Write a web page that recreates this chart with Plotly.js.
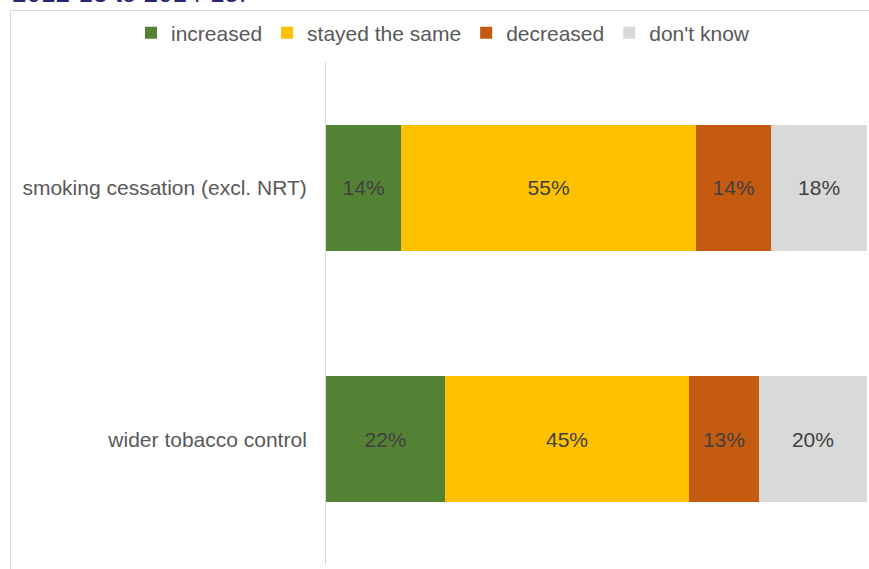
<!DOCTYPE html>
<html>
<head>
<meta charset="utf-8">
<script src="https://cdn.plot.ly/plotly-3.0.1.min.js"></script>
<style>html,body{margin:0;padding:0;background:#fff;}#chart{width:869px;height:569px;}</style>
</head>
<body>
<div id="chart"></div>
<script>
const categories = ["smoking cessation (excl. NRT)", "wider tobacco control"];
const seriesNames = ["increased", "stayed the same", "decreased", "don't know"];
const increased = [13.9, 22.0];
const stayedSame = [54.5, 45.1];
const decreased = [13.9, 12.9];
const dontKnow = [17.7, 20.0];
const colors = ["#548235", "#FFC000", "#C55A11", "#D9D9D9"];
const titleText = "2012-13 to 2014-15.";

const allValues = [increased, stayedSame, decreased, dontKnow];
const traces = allValues.map((vals, i) => ({
  type: "bar",
  orientation: "h",
  name: seriesNames[i],
  y: categories,
  x: vals,
  marker: {color: colors[i]},
  texttemplate: "%{x:.0f}%",
  textposition: "inside",
  insidetextanchor: "middle",
  textfont: {family: "Liberation Sans, Arial, sans-serif", size: 21, color: "#404040"},
  hoverinfo: "skip"
}));

const L = 326, R = 2, T = 62, B = 4, W = 869, H = 569;
const pw = W - L - R, ph = H - T - B;
const px = x => (x - L) / pw;
const py = y => 1 - (y - T) / ph;

const layout = {
  width: W, height: H,
  margin: {l: L, r: R, t: T, b: B, pad: 0, autoexpand: false},
  barmode: "stack",
  bargap: 0.5,
  paper_bgcolor: "#fff",
  plot_bgcolor: "#fff",
  font: {family: "Liberation Sans, Arial, sans-serif", size: 21, color: "#595959"},
  showlegend: true,
  legend: {
    orientation: "h",
    xref: "paper", yref: "paper",
    x: px(131), xanchor: "left",
    y: py(33), yanchor: "middle",
    font: {size: 21, color: "#595959"},
    itemwidth: 30,
    traceorder: "normal",
    itemclick: false, itemdoubleclick: false
  },
  xaxis: {range: [0, 100], visible: false, fixedrange: true},
  yaxis: {
    type: "category",
    categoryorder: "array",
    categoryarray: categories.slice().reverse(),
    showline: true, linecolor: "#D9D9D9", linewidth: 1,
    showgrid: false, zeroline: false,
    ticks: "", ticklabelstandoff: 14,
    tickfont: {size: 21, color: "#595959"},
    fixedrange: true
  },
  shapes: [
    {type: "line", xref: "paper", yref: "paper", x0: px(10.5), x1: px(10.5), y0: py(10.5), y1: py(569), line: {color: "#D9D9D9", width: 1}},
    {type: "line", xref: "paper", yref: "paper", x0: px(10.5), x1: px(869), y0: py(10.5), y1: py(10.5), line: {color: "#D9D9D9", width: 1}}
  ],
  annotations: [
    {text: titleText, xref: "paper", yref: "paper", x: px(10), xanchor: "left", y: py(10), yanchor: "bottom", showarrow: false,
     font: {family: "Liberation Sans, Arial, sans-serif", size: 26, color: "#262673"}}
  ]
};

Plotly.newPlot("chart", traces, layout, {displayModeBar: false, staticPlot: true});
</script>
</body>
</html>
